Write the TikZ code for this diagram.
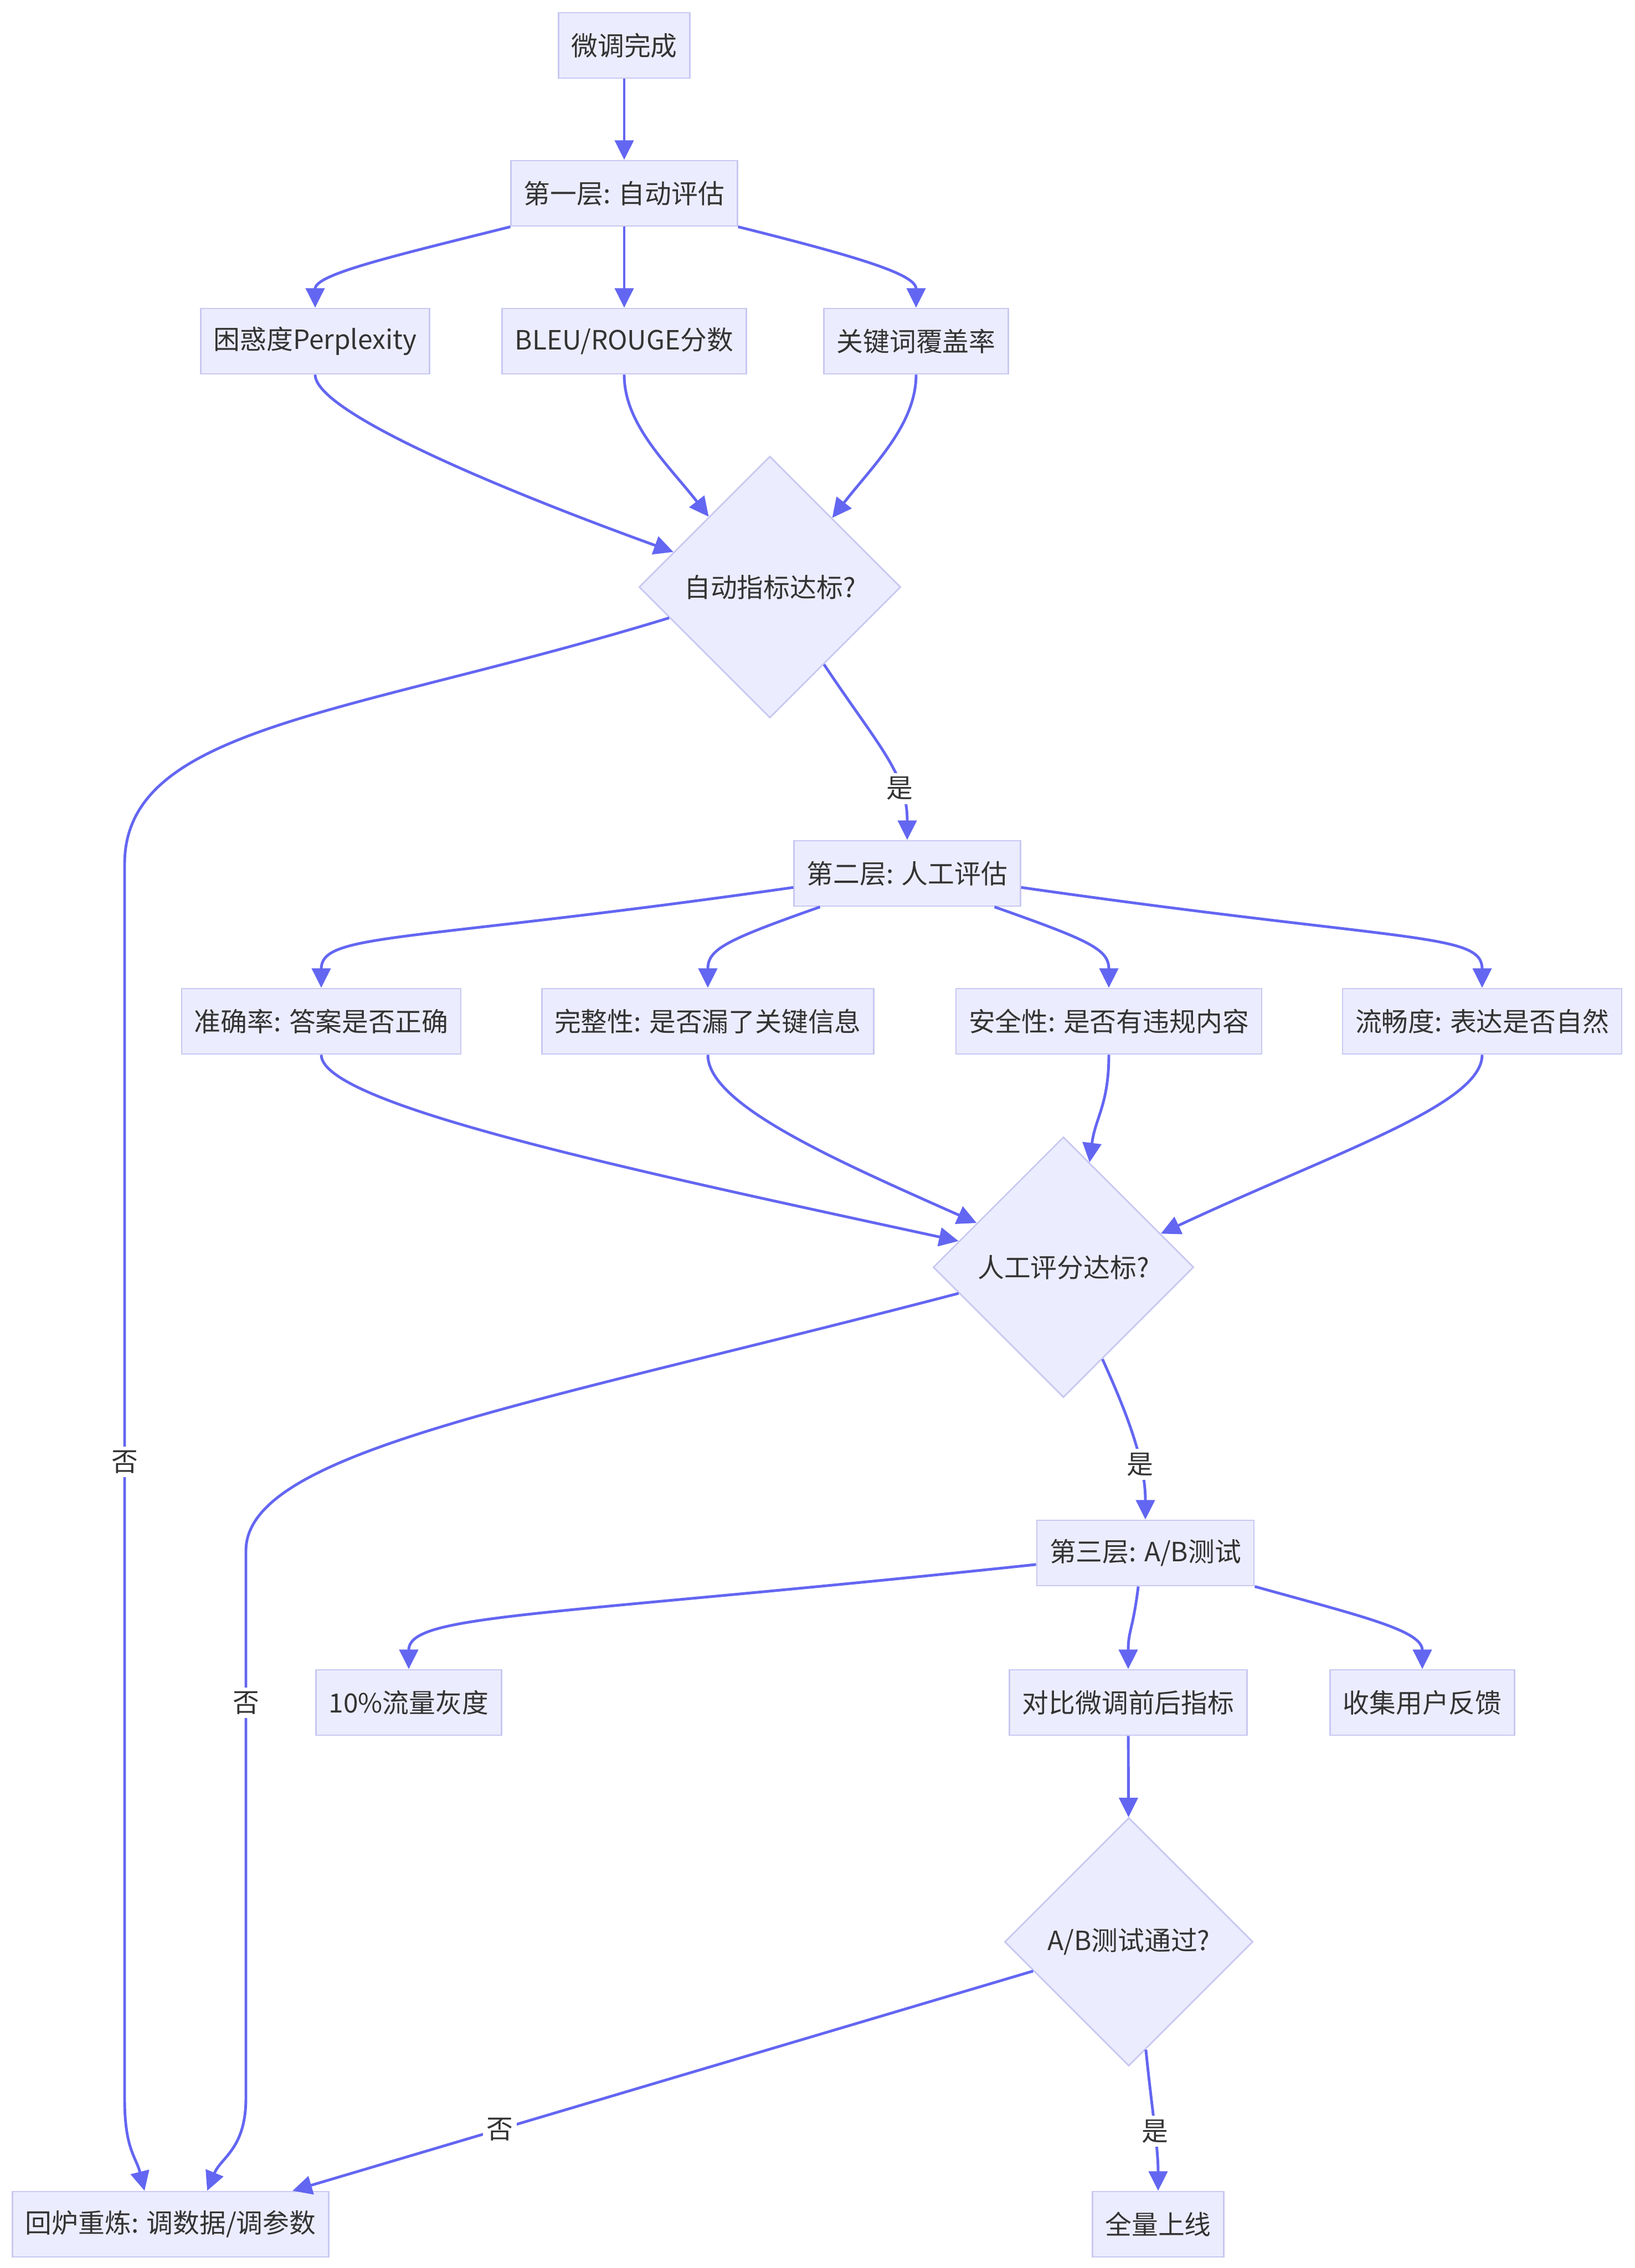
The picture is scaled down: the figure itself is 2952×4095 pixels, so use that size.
\documentclass[tikz,border=0pt]{standalone}
\usepackage{fontspec}
\setmainfont{Noto Sans CJK SC}
\usetikzlibrary{arrows.meta,shapes.geometric}
\definecolor{boxfill}{HTML}{ECECFF}
\definecolor{boxline}{HTML}{C8C8F2}
\definecolor{flowline}{HTML}{6366F1}
\definecolor{txt}{HTML}{333333}

\begin{document}
\begin{tikzpicture}
      [x = 0.01cm, y = -0.01cm,
      every node/.style = {
         font = \fontsize{13.6pt}{16pt}\selectfont,
         text = txt
      },
      box/.style = {
         draw = boxline,
         fill = boxfill,
         line width = 0.8pt,
         rectangle,
         inner xsep = 0.23cm,
         inner ysep = 0pt,
         minimum height = 1.18cm
      },
      decision/.style = {
         draw = boxline,
         fill = boxfill,
         line width = 0.8pt,
         diamond,
         inner sep = 0pt,
         minimum size = #1
      },
      flow/.style = {
         draw = flowline,
         line width = 1.4pt,
         -{Stealth[length = 10pt, width = 9.6pt, inset = 0pt]}
      },
      yesno/.style = {
         fill = white,
         inner sep = 2pt
      }]
      \useasboundingbox (0, 0) rectangle (2952, 4095);

      % layer one
      \node[box] (start) at (1127, 82) {微调完成};
      \node[box] (auto) at (1127, 349) {第一层: 自动评估};
      \node[box] (ppl) at (569, 616) {困惑度Perplexity};
      \node[box] (bleu) at (1127, 616) {BLEU/ROUGE分数};
      \node[box] (kw) at (1654, 616) {关键词覆盖率};
      \node[decision = 4.72cm] (autook) at (1390, 1060) {自动指标达标?};

      % layer two
      \node[box] (human) at (1638, 1577) {第二层: 人工评估};
      \node[box] (acc) at (580, 1844) {准确率: 答案是否正确};
      \node[box] (compl) at (1278, 1844) {完整性: 是否漏了关键信息};
      \node[box] (safe) at (2002, 1844) {安全性: 是否有违规内容};
      \node[box] (fluent) at (2676, 1844) {流畅度: 表达是否自然};
      \node[decision = 4.70cm] (humanok) at (1920, 2288) {人工评分达标?};

      % layer three
      \node[box] (ab) at (2068, 2804) {第三层: A/B测试};
      \node[box] (gray) at (738, 3074) {10\%流量灰度};
      \node[box] (cmp) at (2037, 3074) {对比微调前后指标};
      \node[box] (fb) at (2568, 3074) {收集用户反馈};
      \node[decision = 4.48cm] (abok) at (2038, 3506) {A/B测试通过?};

      \node[box] (retrain) at (308, 4016) {回炉重炼: 调数据/调参数};
      \node[box] (launch) at (2091, 4016) {全量上线};

      \draw[flow] (start) -- (auto);
      \draw[flow] (auto.south west) .. controls +(-220, 55) and +(0, -60) .. (ppl.north);
      \draw[flow] (auto) -- (bleu);
      \draw[flow] (auto.south east) .. controls +(220, 55) and +(0, -60) .. (kw.north);

      \draw[flow] (ppl.south) .. controls +(0, 70) and +(-290, -105) .. (autook.160);
      \draw[flow] (bleu.south) .. controls +(0, 90) and +(-74, -95) .. (autook.131);
      \draw[flow] (kw.south) .. controls +(0, 90) and +(74, -95) .. (autook.48);

      \draw[flow] (autook.197) .. controls (632, 1292) and (225, 1310) .. (225, 1560)
         -- node[yesno, pos = 0.484] {否} (225, 3790)
         .. controls (225, 3880) and (246, 3895) .. ([xshift = -0.47cm]retrain.north);
      \draw[flow] (autook.305) .. controls +(100, 150) and +(0, -120) .. node[yesno, pos = 0.7] {是} (human.north);

      \draw[flow] (human.187) .. controls +(-700, 100) and +(0, -100) .. (acc.north);
      \draw[flow] (human.201) .. controls +(-170, 60) and +(0, -70) .. (compl.north);
      \draw[flow] (human.339) .. controls +(170, 60) and +(0, -70) .. (safe.north);
      \draw[flow] (human.353) .. controls +(700, 100) and +(0, -100) .. (fluent.north);

      \draw[flow] (acc.south) .. controls +(0, 90) and +(-586, -127) .. (humanok.166);
      \draw[flow] (compl.south) .. controls +(0, 90) and +(-256, -114) .. (humanok.153);
      \draw[flow] (safe.south) .. controls +(0, 90) and +(10, -80) .. (humanok.76);
      \draw[flow] (fluent.south) .. controls +(0, 90) and +(317, -148) .. (humanok.19);

      \draw[flow] (humanok.194) .. controls (955, 2538) and (444, 2620) .. (444, 2800)
         -- node[yesno, pos = 0.278] {否} (444, 3788)
         .. controls (444, 3880) and (399, 3895) .. ([xshift = 0.66cm]retrain.north);
      \draw[flow] (humanok.293) .. controls +(50, 110) and +(0, -100) .. node[yesno, pos = 0.65] {是} (ab.north);

      \draw[flow] (ab.186) .. controls +(-895, 95) and +(0, -100) .. (gray.north);
      \draw[flow] (ab.258) .. controls +(-10, 80) and +(0, -70) .. (cmp.north);
      \draw[flow] (ab.south east) .. controls +(190, 53) and +(0, -70) .. (fb.north);
      \draw[flow] (cmp) -- (abok);

      \draw[flow] (abok.197) -- node[yesno, pos = 0.72] {否} ([xshift = 2.2cm]retrain.north);
      \draw[flow] (abok.279) .. controls +(10, 100) and +(0, -80) .. node[yesno, pos = 0.55] {是} (launch.north);
\end{tikzpicture}
\end{document}
